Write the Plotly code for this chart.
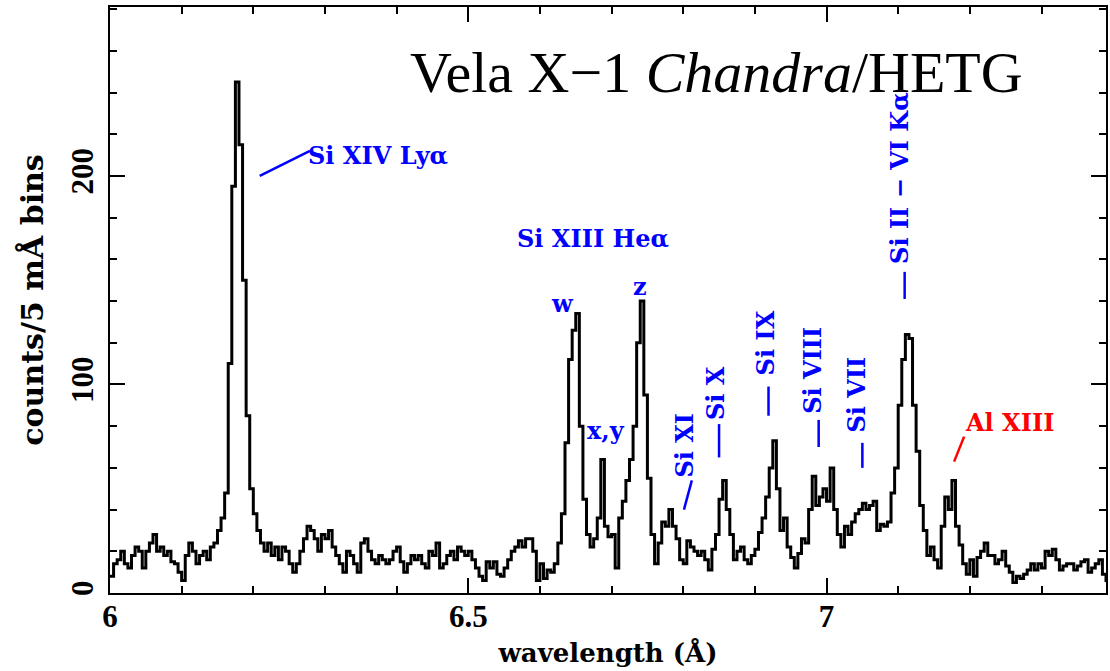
import plotly.graph_objects as go

# ---- data: counts per 5 mA bin, starting at 6.000 A ----
bin_start = 6.0
bin_width = 0.005
counts = [
    8, 14, 16, 20, 14, 12, 18, 22, 20, 12,
    20, 24, 28, 20, 22, 18, 20, 15, 14, 10,
    6, 18, 24, 20, 14, 18, 20, 16, 22, 24,
    30, 36, 48, 110, 195, 245, 215, 150, 85, 50,
    38, 30, 24, 20, 24, 18, 22, 16, 22, 20,
    14, 10, 14, 20, 26, 32, 30, 26, 20, 28,
    26, 30, 22, 18, 14, 10, 20, 18, 14, 10,
    24, 26, 20, 16, 14, 18, 16, 14, 16, 20,
    22, 15, 10, 14, 18, 16, 18, 14, 12, 20,
    18, 24, 12, 14, 18, 20, 16, 22, 20, 18,
    20, 16, 12, 8, 6, 15, 12, 15, 9, 8,
    12, 16, 20, 22, 25, 22, 26, 26, 20, 6,
    14, 7, 11, 10, 14, 24, 38, 72, 112, 126,
    134, 80, 45, 28, 22, 26, 36, 64, 32, 27,
    28, 12, 36, 44, 54, 64, 80, 120, 140, 95,
    55, 28, 14, 24, 34, 32, 40, 32, 26, 16,
    14, 25, 22, 20, 18, 20, 16, 11, 21, 28,
    45, 54, 40, 28, 16, 20, 22, 16, 14, 18,
    21, 29, 36, 46, 60, 73, 50, 30, 36, 22,
    17, 12, 19, 26, 24, 40, 56, 42, 46, 50,
    44, 60, 40, 28, 22, 32, 28, 34, 38, 40,
    43, 40, 42, 44, 30, 33, 32, 34, 48, 60,
    90, 112, 124, 122, 90, 68, 42, 30, 18, 22,
    16, 12, 32, 46, 40, 54, 32, 23, 14, 9,
    16, 8, 17, 20, 24, 18, 18, 14, 16, 20,
    13, 10, 5, 8, 7, 9, 11, 14, 11, 14,
    12, 20, 18, 21, 16, 11, 13, 14, 14, 11,
    13, 15, 16, 10, 12, 14, 16, 9, 6, 3,
]

edges = [round(bin_start + i * bin_width, 4) for i in range(len(counts) + 1)]
xs = edges
ys = counts + [counts[-1]]

# line identifications: (text, x, y, angle, anchor)
blue_labels = [
    ("Si XIV Ly\u03b1", 6.273, 210, 0, "left"),
    ("Si XIII He\u03b1", 6.674, 170, 0, "center"),
    ("w", 6.631, 139, 0, "center"),
    ("z", 6.740, 147, 0, "center"),
    ("x,y", 6.692, 78, 0, "center"),
    ("Si XI", 6.802, 71, -90, "center"),
    ("Si X", 6.846, 96, -90, "center"),
    ("Si IX", 6.915, 120, -90, "center"),
    ("Si VIII", 6.981, 107, -90, "center"),
    ("Si VII", 7.042, 95, -90, "center"),
    ("Si II \u2212 VI K\u03b1", 7.101, 199, -90, "center"),
]
red_labels = [("Al XIII", 7.191, 82, 0, "left")]

blue_ticks = [  # x0, y0, x1, y1
    (6.209, 200, 6.279, 212),
    (6.801, 40, 6.812, 54),
    (6.850, 65, 6.850, 81),
    (6.919, 85, 6.919, 99),
    (6.989, 70, 6.989, 83),
    (7.050, 60, 7.050, 72),
    (7.109, 141, 7.109, 154),
]
red_ticks = [(7.178, 63, 7.192, 75)]

fig = go.Figure()
fig.add_trace(go.Scatter(x=xs, y=ys, mode="lines", line=dict(color="black", width=3, shape="hv"),
                         hoverinfo="skip", showlegend=False))

lab_font = "DejaVu Serif"
for txt, x, y, ang, anc in blue_labels + red_labels:
    col = "#ff0000" if txt.startswith("Al") else "#0000ff"
    fig.add_annotation(x=x, y=y, xref="x", yref="y", text=txt, showarrow=False, textangle=ang,
                       xanchor=anc, yanchor="middle",
                       font=dict(family=lab_font, size=24, color=col, weight="bold"))

for (x0, y0, x1, y1) in blue_ticks:
    fig.add_shape(type="line", x0=x0, y0=y0, x1=x1, y1=y1, xref="x", yref="y",
                  line=dict(color="#0000ff", width=2.5))
for (x0, y0, x1, y1) in red_ticks:
    fig.add_shape(type="line", x0=x0, y0=y0, x1=x1, y1=y1, xref="x", yref="y",
                  line=dict(color="#ff0000", width=2.5))

fig.add_annotation(x=0.2996, y=0.888, xref="paper", yref="paper", xanchor="left", yanchor="middle",
                   text="Vela X\u22121 <i>Chandra</i>/HETG", showarrow=False,
                   font=dict(family="Liberation Serif", size=58, color="black"))

tick_font = dict(family="Liberation Serif", size=31, color="black", weight="bold")
fig.update_xaxes(range=[6.0, 7.39], tickvals=[6, 6.5, 7], ticktext=["6", "6.5", "7"],
                 ticks="inside", ticklen=15, tickwidth=2, tickcolor="black",
                 minor=dict(dtick=0.1, tick0=6.0, ticks="inside", ticklen=7, tickwidth=2, tickcolor="black"),
                 showline=True, linecolor="black", linewidth=2, mirror="allticks",
                 showgrid=False, zeroline=False, tickfont=tick_font, ticklabelstandoff=-5,
                 title=dict(text="wavelength (\u00c5)", font=dict(family=lab_font, size=26, color="black", weight="bold"),
                            standoff=11))
fig.update_yaxes(range=[0, 281], tickvals=[0, 100, 200], ticktext=["0", "100", "200"], tickangle=-90,
                 ticks="inside", ticklen=15, tickwidth=2, tickcolor="black",
                 minor=dict(dtick=20, tick0=0, ticks="inside", ticklen=7, tickwidth=2, tickcolor="black"),
                 showline=True, linecolor="black", linewidth=2, mirror="allticks",
                 showgrid=False, zeroline=False, tickfont=tick_font, ticklabelstandoff=3,
                 title=dict(text="counts/5 m\u00c5 bins", font=dict(family=lab_font, size=30, color="black", weight="bold"),
                            standoff=12))

fig.update_layout(width=1110, height=671, margin=dict(l=110, r=2, t=7, b=78),
                  paper_bgcolor="white", plot_bgcolor="white")
fig.write_html("out.html")
